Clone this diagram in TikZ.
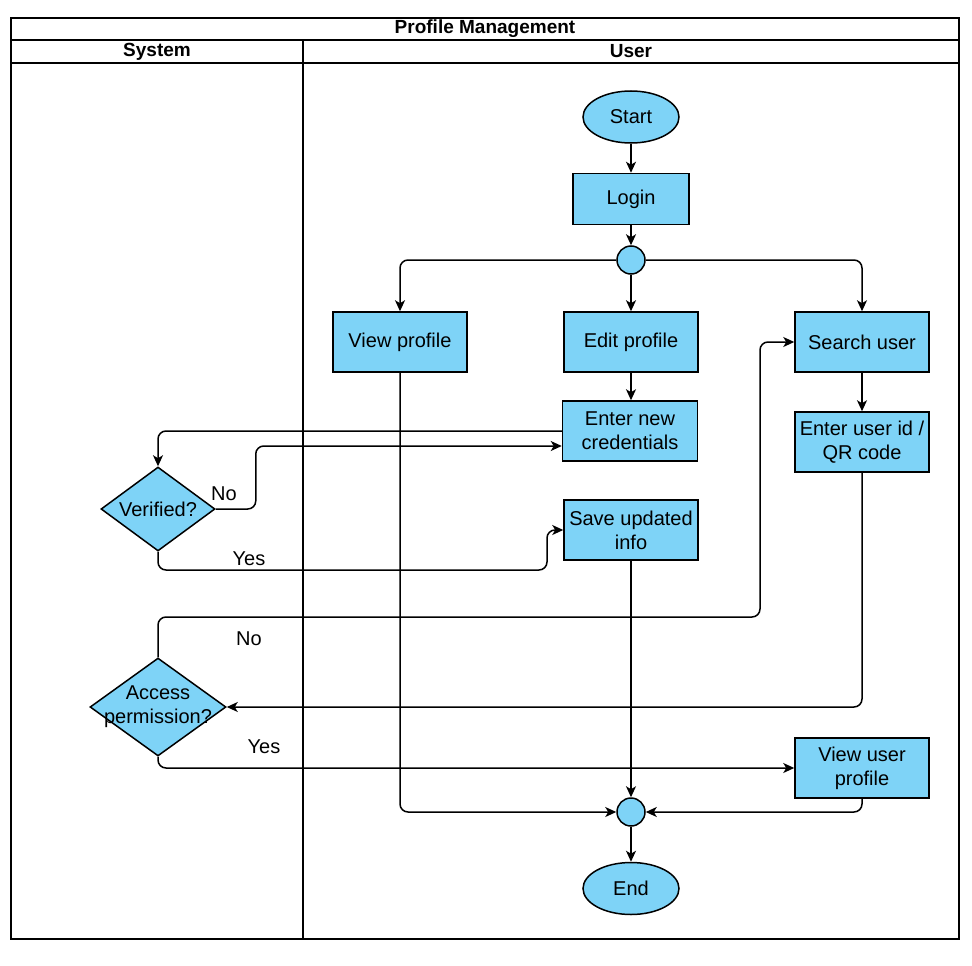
\documentclass[tikz,border=0pt]{standalone}
\usepackage{fontspec}
\setmainfont{Liberation Sans}
\usetikzlibrary{positioning}
\usetikzlibrary{shapes.geometric}
\usetikzlibrary {arrows.meta}
\definecolor{actfill}{HTML}{7ED3F7}
\tikzset{actbox/.style={rectangle,draw=black,fill=actfill,line width=1.5pt,
inner sep=2pt,minimum height=60pt, minimum width=134pt,align=center,
font=\fontsize{20}{24}\selectfont}}
\tikzset{actend/.style={ellipse,draw=black,fill=actfill,line width=1.5pt,
inner sep=0pt,minimum height=52pt, minimum width=96pt,
font=\fontsize{20}{24}\selectfont}}
\tikzset{actjoin/.style={circle,draw=black,fill=actfill,line width=1.5pt,
inner sep=0pt,minimum size=28pt}}
\tikzset{actdecide/.style={diamond,draw=black,fill=actfill,line width=1.5pt,
inner sep=0pt}}
\tikzset{acttext/.style={align=center,inner sep=0pt,
font=\fontsize{20}{24}\selectfont}}
\tikzset{lanehead/.style={inner sep=0pt,font=\fontsize{19}{22}\selectfont\bfseries}}
\tikzset{flow/.style={line width=1.5pt,rounded corners=8pt,-{Stealth[length=11pt,width=10pt,inset=3pt]}}}

\begin{document}
\begin{tikzpicture}[x=1pt,y=-1pt]
        \useasboundingbox (0,0) rectangle (972,966);

        % swimlanes
        \draw[line width=2pt] (11,18) rectangle (959,939);
        \draw[line width=2pt] (11,40) -- (959,40);
        \draw[line width=2pt] (11,63) -- (959,63);
        \draw[line width=2pt] (303,40) -- (303,939);
        \node[lanehead] (laneTitle) at (485,29) {Profile Management};
        \node[lanehead] (laneSystem) at (157,51.5) {System};
        \node[lanehead] (laneUser) at (631,51.5) {User};

        \node[actend] (boxStart) at (631,117) {Start};
        \node[actbox, minimum width=116pt, minimum height=51pt] (boxLogin) at (631,199) {Login};
        \node[actjoin] (boxFork) at (631,260) {};

        \node[actbox] (boxView) at (400,342) {View profile};
        \node[actbox] (boxEdit) at (631,342) {Edit profile};
        \node[actbox] (boxSearch) at (862,342) {Search user};
        \node[actbox, minimum width=135pt] (boxCred) at (630,431) {Enter new\\credentials};
        \node[actbox] (boxId) at (862,442) {Enter user id /\\QR code};
        \node[actbox] (boxSave) at (631,530) {Save updated\\info};
        \node[actbox] (boxViewUser) at (862,768) {View user\\profile};

        \node[actdecide, minimum width=114pt, minimum height=84pt] (boxVerified) at (158,509) {};
        \node[acttext] (boxVerifiedtxt) at (boxVerified) {Verified?};
        \node[actdecide, minimum width=136pt, minimum height=98pt] (boxAccess) at (158,707) {};
        \node[acttext] (boxAccesstxt) at (boxAccess) {Access\\permission?};

        \node[actjoin] (boxJoin) at (631,812) {};
        \node[actend] (boxEnd) [below=35pt of boxJoin] {End};

        \draw[flow] (boxStart) -- (boxLogin);
        \draw[flow] (boxLogin) -- (boxFork);
        \draw[flow] (boxFork.west) -| (boxView.north);
        \draw[flow] (boxFork) -- (boxEdit);
        \draw[flow] (boxFork.east) -| (boxSearch.north);
        \draw[flow] (boxEdit) -- (boxCred.north -| boxEdit);
        \draw[flow] (boxSearch) -- (boxId);

        \draw[flow] (boxCred.west) -| (boxVerified.north);
        \draw[flow] (boxVerified.east) -- ++(40,0) |- ([yshift=-15pt]boxCred.west);
        \draw[flow] (boxVerified.south) |- (547,570) |- (boxSave.west);
        \node[acttext] (lblNoA) at (224,494) {No};
        \node[acttext] (lblYesA) at (249,559) {Yes};

        \draw[flow] (boxId.south) |- (boxAccess.east);
        \draw[flow] (boxAccess.north) |- (760,617) |- (boxSearch.west);
        \draw[flow] (boxAccess.south) |- (boxViewUser.west);
        \node[acttext] (lblNoB) at (249,639) {No};
        \node[acttext] (lblYesB) at (264,747) {Yes};

        \draw[flow] (boxView.south) |- (boxJoin.west);
        \draw[flow] (boxSave.south) -- (boxJoin.north);
        \draw[flow] (boxViewUser.south) |- (boxJoin.east);
        \draw[flow] (boxJoin) -- (boxEnd);

    \end{tikzpicture}
\end{document}
